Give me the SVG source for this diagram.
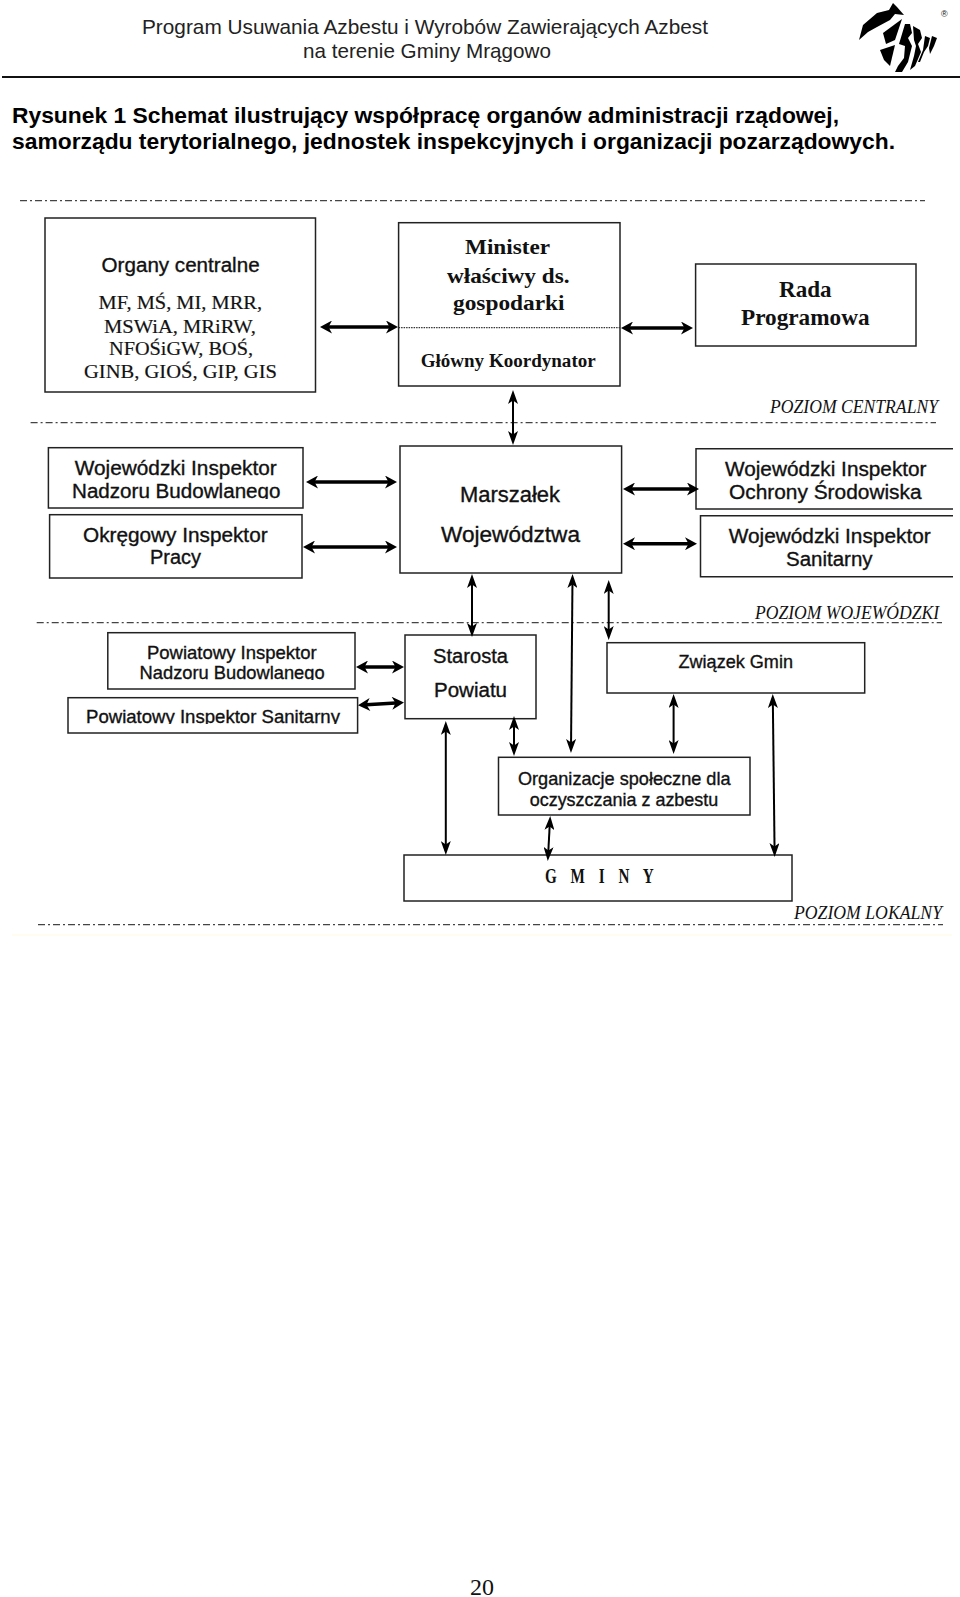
<svg xmlns="http://www.w3.org/2000/svg" width="960" height="1597" viewBox="0 0 960 1597">
<style>
text{fill:#111}
.s{font-family:"Liberation Sans",Arial,sans-serif}
.t{font-family:"Liberation Serif","Times New Roman",serif}
.h{font-size:21px;fill:#222}
.b{font-size:22.5px;font-weight:bold;fill:#000}
.n{font-size:20px;stroke:#111;stroke-width:.35}
.l{font-size:19.5px;stroke:#222;stroke-width:.2}
.p{font-size:18.5px;stroke:#111;stroke-width:.35}
.r{font-size:22px;font-weight:bold}
.k{font-size:18.5px;font-weight:bold}
.o{font-size:18px;font-style:italic}
.box{fill:#fff;stroke:#222;stroke-width:1.5}
.dd{fill:none;stroke:#444;stroke-width:1.2;stroke-dasharray:7 3 2 3}
.a1{fill:none;stroke:#000;stroke-width:3.6;marker-start:url(#hv);marker-end:url(#hv)}
.a2{fill:none;stroke:#000;stroke-width:2;marker-start:url(#th);marker-end:url(#th)}
</style>
<defs>
<marker id="hv" viewBox="0 0 13 13" refX="9" refY="6.5" markerWidth="13" markerHeight="13" markerUnits="userSpaceOnUse" orient="auto-start-reverse"><path d="M1,0 L13,6.5 L1,13 L4.5,6.5 z" fill="#000"/></marker>
<marker id="th" viewBox="0 0 14 10" refX="10" refY="5" markerWidth="14" markerHeight="10" markerUnits="userSpaceOnUse" orient="auto-start-reverse"><path d="M0,0 L14,5 L0,10 L3.5,5 z" fill="#000"/></marker>
<clipPath id="c1"><rect x="60" y="480" width="230" height="19"/></clipPath>
<clipPath id="c2"><rect x="130" y="665" width="200" height="15"/></clipPath>
<clipPath id="c3"><rect x="80" y="708" width="270" height="16"/></clipPath>
</defs>

<g id="header">
<text class="s h" x="142" y="34" textLength="566" lengthAdjust="spacingAndGlyphs">Program Usuwania Azbestu i Wyrobów Zawierających Azbest</text>
<text class="s h" x="303" y="58" textLength="248" lengthAdjust="spacingAndGlyphs">na terenie Gminy Mrągowo</text>
<path d="M2,77 H960" stroke="#111" stroke-width="2" fill="none"/>
</g>
<g id="logo" fill="#000">
<path d="M859,40 L863,25 L877,13 L889,10 L893,3 L897,7 L904,15 L895,14 L890,20 L877,27 L868,32 Z"/>
<path d="M883,33 L902,19 L895,40 L886,44 Z"/>
<path d="M880,50 L895,45 L890,66 L884,60 Z"/>
<path d="M899,44 L905,24 L910,24 L912,33 L908,38 L912,46 L908,62 L902,72 L895,72 L898,66 L904,58 L905,46 Z"/>
<path d="M913,26 L920,30 L922,38 L918,44 L921,52 L915,66 L910,70 L914,56 L916,46 L914,40 Z"/>
<path d="M925,36 L930,38 L928,46 L924,52 L920,62 L918,62 L923,50 Z"/>
<path d="M932,36 L937,38 L934,46 L930,54 L929,48 Z"/>
<text class="s" x="941" y="17" font-size="9" fill="#222">®</text>
</g>
<g id="caption">
<text class="s b" x="12" y="122.5" textLength="827" lengthAdjust="spacingAndGlyphs">Rysunek 1 Schemat ilustrujący współpracę organów administracji rządowej,</text>
<text class="s b" x="12" y="149" textLength="883" lengthAdjust="spacingAndGlyphs">samorządu terytorialnego, jednostek inspekcyjnych i organizacji pozarządowych.</text>
</g>

<g id="levels">
<path class="dd" d="M20,200.7 H925"/>
<path class="dd" d="M30.6,422.7 H936"/>
<path class="dd" d="M36.7,622.7 H942"/>
<path class="dd" d="M38,924.7 H943"/>
<rect x="12" y="934" width="940" height="2" fill="#fffdf0"/>
<text class="t o" x="770" y="412.7" textLength="168" lengthAdjust="spacingAndGlyphs">POZIOM  CENTRALNY</text>
<text class="t o" x="755" y="619" textLength="184" lengthAdjust="spacingAndGlyphs">POZIOM  WOJEWÓDZKI</text>
<text class="t o" x="794" y="919" textLength="148" lengthAdjust="spacingAndGlyphs">POZIOM  LOKALNY</text>
</g>

<g id="organy-centralne">
<rect class="box" x="45" y="218" width="270.5" height="174"/>
<text class="s n" x="101.6" y="271.7" textLength="158" lengthAdjust="spacingAndGlyphs">Organy centralne</text>
<text class="t l" x="98.6" y="309.3" textLength="163.4" lengthAdjust="spacingAndGlyphs">MF, MŚ, MI, MRR,</text>
<text class="t l" x="104" y="332.7" textLength="152" lengthAdjust="spacingAndGlyphs">MSWiA, MRiRW,</text>
<text class="t l" x="109" y="355.3" textLength="144" lengthAdjust="spacingAndGlyphs">NFOŚiGW, BOŚ,</text>
<text class="t l" x="84" y="378.3" textLength="193" lengthAdjust="spacingAndGlyphs">GINB, GIOŚ, GIP, GIS</text>
</g>
<g id="minister">
<rect class="box" x="398.6" y="222.7" width="221.4" height="163.3"/>
<path d="M398.6,327.7 H620" stroke="#333" stroke-width="1.2" stroke-dasharray="1.5 1" fill="none"/>
<text class="t r" x="465" y="254" textLength="85" lengthAdjust="spacingAndGlyphs">Minister</text>
<text class="t r" x="447" y="282.7" textLength="122.5" lengthAdjust="spacingAndGlyphs">właściwy ds.</text>
<text class="t r" x="453" y="310" textLength="111.6" lengthAdjust="spacingAndGlyphs">gospodarki</text>
<text class="t k" x="420.7" y="366.7" textLength="175" lengthAdjust="spacingAndGlyphs">Główny Koordynator</text>
</g>
<g id="rada-programowa">
<rect class="box" x="695.6" y="264" width="220.4" height="82"/>
<text class="t r" style="font-size:23px" x="779" y="296.7" textLength="52.6" lengthAdjust="spacingAndGlyphs">Rada</text>
<text class="t r" style="font-size:23px" x="741" y="325" textLength="128.6" lengthAdjust="spacingAndGlyphs">Programowa</text>
</g>

<g id="win-budowlanego">
<rect class="box" x="48.4" y="447.7" width="254.6" height="60.3"/>
<text class="s n" x="74.7" y="475" textLength="202" lengthAdjust="spacingAndGlyphs">Wojewódzki Inspektor</text>
<text class="s n" clip-path="url(#c1)" x="72" y="497.7" textLength="208.5" lengthAdjust="spacingAndGlyphs">Nadzoru Budowlanego</text>
</g>
<g id="oip-pracy">
<rect class="box" x="49.6" y="514.7" width="252.4" height="63.3"/>
<text class="s n" x="83" y="541.7" textLength="184.6" lengthAdjust="spacingAndGlyphs">Okręgowy Inspektor</text>
<text class="s n" x="150" y="564" textLength="51" lengthAdjust="spacingAndGlyphs">Pracy</text>
</g>
<g id="marszalek">
<rect class="box" x="400" y="446" width="221.6" height="127"/>
<text class="s n" style="font-size:21.5px" x="460" y="502.3" textLength="100" lengthAdjust="spacingAndGlyphs">Marszałek</text>
<text class="s n" style="font-size:21.5px" x="441" y="541.7" textLength="139" lengthAdjust="spacingAndGlyphs">Województwa</text>
</g>
<g id="wios">
<path class="box" d="M953,448.7 H696 V509 H953"/>
<text class="s n" x="725" y="476" textLength="201.5" lengthAdjust="spacingAndGlyphs">Wojewódzki Inspektor</text>
<text class="s n" x="729" y="498.7" textLength="192.6" lengthAdjust="spacingAndGlyphs">Ochrony Środowiska</text>
</g>
<g id="wis">
<path class="box" d="M953,515.7 H700.5 V576.7 H953"/>
<text class="s n" x="728.7" y="542.7" textLength="202" lengthAdjust="spacingAndGlyphs">Wojewódzki Inspektor</text>
<text class="s n" x="786" y="565.7" textLength="86.6" lengthAdjust="spacingAndGlyphs">Sanitarny</text>
</g>

<g id="pinb">
<rect class="box" x="107.8" y="632.7" width="247.2" height="56.3"/>
<text class="s p" x="147" y="659" textLength="169.6" lengthAdjust="spacingAndGlyphs">Powiatowy Inspektor</text>
<text class="s p" clip-path="url(#c2)" x="139.6" y="679.3" textLength="185" lengthAdjust="spacingAndGlyphs">Nadzoru Budowlanego</text>
</g>
<g id="pis">
<rect class="box" x="68" y="697.7" width="289.6" height="35.3"/>
<text class="s p" clip-path="url(#c3)" x="86" y="723.3" textLength="254" lengthAdjust="spacingAndGlyphs">Powiatowy Inspektor Sanitarny</text>
</g>
<g id="starosta">
<rect class="box" x="405" y="635" width="131" height="83.7"/>
<text class="s n" x="433" y="662.7" textLength="75" lengthAdjust="spacingAndGlyphs">Starosta</text>
<text class="s n" x="434" y="696.7" textLength="73" lengthAdjust="spacingAndGlyphs">Powiatu</text>
</g>
<g id="zwiazek-gmin">
<rect class="box" x="607" y="642.7" width="257.7" height="50.3"/>
<text class="s p" x="678.5" y="667.7" textLength="114.5" lengthAdjust="spacingAndGlyphs">Związek Gmin</text>
</g>
<g id="organizacje">
<rect class="box" x="498.5" y="757.3" width="251.5" height="57.7"/>
<text class="s p" x="518" y="785" textLength="212.5" lengthAdjust="spacingAndGlyphs">Organizacje społeczne dla</text>
<text class="s p" x="529.7" y="806" textLength="188.6" lengthAdjust="spacingAndGlyphs">oczyszczania z azbestu</text>
</g>
<g id="gminy">
<rect class="box" x="404" y="855" width="388" height="46"/>
<text class="t r" style="font-size:20px" transform="translate(545,882.7) scale(.76,1)" x="0" y="0" textLength="143" lengthAdjust="spacing">G M I N Y</text>
</g>

<g id="connectors">
<path class="a1" d="M324,327 H394"/>
<path class="a1" d="M625,328 H689"/>
<path class="a1" d="M310,482 H393"/>
<path class="a1" d="M307,547 H393"/>
<path class="a1" d="M627,489 H695"/>
<path class="a1" d="M627,543.7 H693"/>
<path class="a1" d="M360,667 H400"/>
<path class="a1" d="M362,705 L400,702.7"/>
<path class="a2" d="M513,394 V441"/>
<path class="a2" d="M472,578 V633"/>
<path class="a2" d="M572.5,578 L571,749"/>
<path class="a2" d="M608.7,584 V636"/>
<path class="a2" d="M445.8,725 V851"/>
<path class="a2" d="M514,720 V752"/>
<path class="a2" d="M673.6,698 V750"/>
<path class="a2" d="M772.8,698 L774.6,853"/>
<path class="a2" d="M550,820 L548,857"/>
</g>

<g id="page-number">
<text class="t" font-size="24" x="470" y="1595">20</text>
</g>
</svg>
